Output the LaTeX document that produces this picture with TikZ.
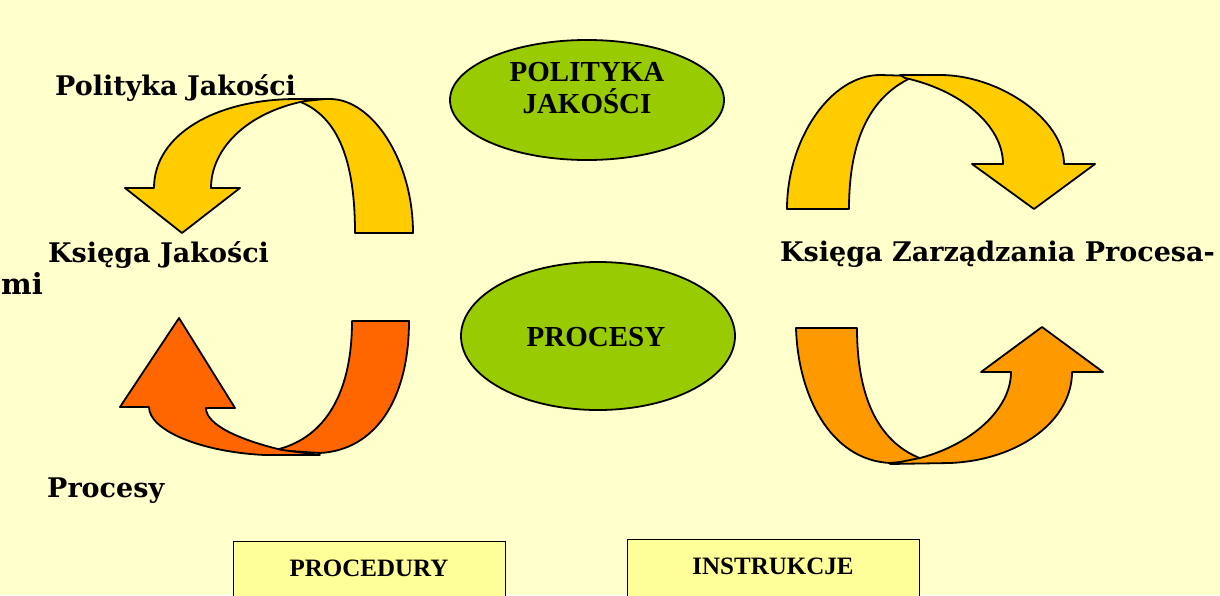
\documentclass[tikz,border=0pt]{standalone}
\usepackage{fontspec}
\setmainfont{DejaVu Serif}
\newfontfamily\tnr{Liberation Serif}
\usetikzlibrary{shapes.geometric}
\definecolor{bg}{HTML}{FFFFCC}
\definecolor{grn}{HTML}{99CC00}
\definecolor{yel}{HTML}{FFCC00}
\definecolor{orR}{HTML}{FF6600}
\definecolor{orL}{HTML}{FF9900}
\definecolor{boxy}{HTML}{FFFF99}
\begin{document}
\begin{tikzpicture}[x=1pt,y=-1pt,
  arr/.style={draw=black, line width=1.8pt, line join=round},
  ell/.style={ellipse, draw=black, line width=1.8pt, fill=grn, inner sep=0pt},
  lbl/.style={anchor=base west, inner sep=0pt, font=\fontsize{27}{32}\selectfont\bfseries},
  etxt/.style={align=center, inner sep=0pt, font=\tnr\fontsize{29}{32}\selectfont\bfseries},
  btxt/.style={anchor=base, inner sep=0pt, font=\tnr\fontsize{25}{30}\selectfont\bfseries},
  boxn/.style={draw=black, line width=1.2pt, fill=boxy, anchor=north west, inner sep=0pt}]
\useasboundingbox (0,0) rectangle (1220,595);
\clip (0,0) rectangle (1220,595);
\fill[bg] (0,0) rectangle (1220,595);

% ellipses
\node[ell, minimum width=274pt, minimum height=120pt] (e1) at (587,100) {};
\node[etxt, anchor=base] (e1t) at (587,113) {POLITYKA\\JAKOŚCI};
\node[ell, minimum width=274pt, minimum height=148pt] (e2) at (598,336) {};
\node[etxt, anchor=base] (e2t) at (596,346) {PROCESY};

% boxes
\node[boxn, minimum width=272pt, minimum height=70pt] (b1) at (233,541) {};
\node[btxt] (b1t) at (369,576) {PROCEDURY};
\node[boxn, minimum width=292pt, minimum height=70pt] (b2) at (627,539) {};
\node[btxt] (b2t) at (773,574) {INSTRUKCJE};

% labels
\node[lbl] (l1) at (55,95) {Polityka Jakości};
\node[lbl] (l2) at (48,262) {Księga Jakości};
\node[lbl] (l3) at (1,294) {\fontsize{29}{32}\selectfont mi};
\node[lbl] (l4) at (47,497) {Procesy};
\node[lbl] (l5) at (780,261) {Księga Zarządzania Procesa-};

% arrow 1 (top-left)
\filldraw[arr, fill=yel] (355,233) .. controls (355,160) and (338,112) .. (292,99) -- (330,99) .. controls (372,99) and (413,160) .. (413,233) -- cycle;
\filldraw[arr, fill=yel] (325,99) -- (297,99) .. controls (215,99) and (154,135) .. (154,188) -- (125,188) -- (182,233) -- (240,188) -- (211,188) .. controls (211,150) and (245,113) .. (305,101) -- cycle;

% arrow 2 (top-right)
\filldraw[arr, fill=yel] (849,209) .. controls (849,140) and (870,95) .. (915,76) -- (880,75) .. controls (830,75) and (787,140) .. (787,209) -- cycle;
\filldraw[arr, fill=yel] (900,75) -- (940,75) .. controls (1000,75) and (1064,120) .. (1064,164) -- (1095,164) -- (1034,209) -- (972,164) -- (1003,164) .. controls (1003,125) and (960,90) .. (905,78) -- cycle;

% arrow 3 (bottom-left)
\filldraw[arr, fill=orR] (352,321) .. controls (352,400) and (320,440) .. (275,450) -- (320,453) .. controls (375,450) and (409,400) .. (409,321) -- cycle;
\filldraw[arr, fill=orR] (320,455) -- (265,455) .. controls (200,452) and (149,430) .. (149,407) -- (120,407) -- (179,318) -- (235,408) -- (206,408) .. controls (206,425) and (240,440) .. (282,450) -- cycle;

% arrow 4 (bottom-right)
\filldraw[arr, fill=orL] (857,328) .. controls (857,400) and (880,445) .. (925,460) -- (890,463) .. controls (830,460) and (798,395) .. (796,328) -- cycle;
\filldraw[arr, fill=orL] (890,464) -- (950,463) .. controls (1020,460) and (1072,420) .. (1072,372) -- (1103,372) -- (1042,327) -- (981,372) -- (1011,372) .. controls (1011,410) and (970,445) .. (920,458) -- cycle;
\end{tikzpicture}
\end{document}
